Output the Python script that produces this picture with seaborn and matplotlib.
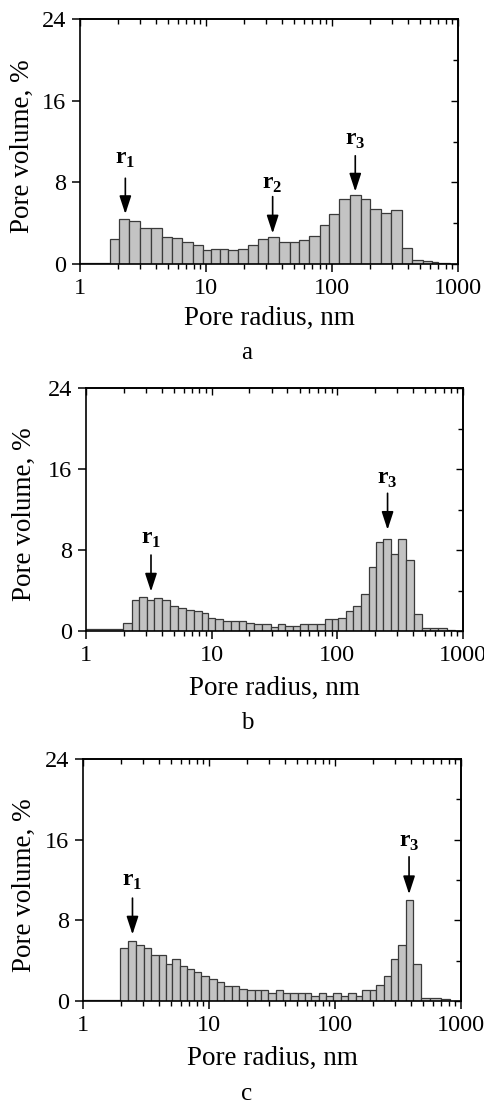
import numpy as np
import pandas as pd
import matplotlib
matplotlib.use("Agg")
import matplotlib.pyplot as plt
from matplotlib.ticker import FixedLocator, LogLocator, NullFormatter
import seaborn as sns

# --- data: bin edges (nm) and pore volume (%) ---
EDGES_A = [1.0, 1.73, 2.05, 2.46, 2.99, 3.68, 4.48, 5.37, 6.45, 7.84, 9.41,
           10.9, 12.8, 15.0, 18.0, 21.7, 26.0, 31.2, 38.2, 46.4, 55.0, 66.0,
           80.3, 95.2, 113, 139, 169, 200, 244, 292, 357, 431, 528, 618, 698, 864]
VOLUME_A = [0.05, 2.42, 4.38, 4.18, 3.56, 3.56, 2.68, 2.58, 2.19, 1.83, 1.37,
            1.47, 1.47, 1.34, 1.47, 1.83, 2.42, 2.61, 2.19, 2.19, 2.35, 2.78,
            3.82, 4.90, 6.41, 6.73, 6.34, 5.39, 5.03, 5.26, 1.54, 0.42, 0.26,
            0.16, 0.07]

EDGES_B = [1.0, 1.98, 2.31, 2.65, 3.04, 3.49, 4.05, 4.66, 5.37, 6.21, 7.23,
           8.32, 9.40, 10.7, 12.2, 14.2, 16.4, 18.7, 21.7, 25.3, 29.5, 33.9,
           38.3, 44.1, 50.4, 58.7, 68.4, 79.6, 90.1, 102, 117, 134, 154, 178,
           203, 232, 267, 305, 351, 407, 469, 545, 635, 741, 863]
VOLUME_B = [0.15, 0.76, 3.04, 3.31, 3.04, 3.21, 3.04, 2.45, 2.31, 2.05, 1.95,
            1.75, 1.26, 1.16, 0.96, 0.96, 0.96, 0.76, 0.66, 0.66, 0.43, 0.66,
            0.46, 0.46, 0.66, 0.66, 0.66, 1.16, 1.16, 1.26, 1.95, 2.45, 3.67,
            6.28, 8.79, 9.09, 7.60, 9.09, 6.98, 1.72, 0.33, 0.33, 0.25, 0.12]

EDGES_C = [1.0, 1.98, 2.28, 2.65, 3.07, 3.49, 4.01, 4.59, 5.12, 5.85, 6.69,
           7.60, 8.70, 10.0, 11.5, 13.1, 15.1, 17.3, 20.0, 23.1, 26.1, 29.4,
           33.8, 38.7, 44.3, 50.9, 57.5, 65.0, 74.6, 85.5, 96.4, 111, 127,
           146, 165, 188, 213, 244, 277, 316, 364, 416, 485, 565, 699, 813]
VOLUME_C = [0.1, 5.28, 5.97, 5.58, 5.28, 4.59, 4.59, 3.70, 4.13, 3.43, 3.20,
            2.87, 2.51, 2.21, 1.88, 1.49, 1.49, 1.22, 1.12, 1.12, 1.12, 0.79,
            1.12, 0.79, 0.79, 0.79, 0.79, 0.46, 0.79, 0.46, 0.79, 0.46, 0.79,
            0.46, 1.12, 1.12, 1.62, 2.48, 4.13, 5.58, 10.03, 3.70, 0.28, 0.26,
            0.17]

# peak markers: (label, radius nm, arrow tip %, arrow tail %, label %)
PEAKS_A = [("1", 2.29, 4.9, 8.4, 10.2), ("2", 33.8, 3.0, 6.6, 7.8),
           ("3", 153, 7.1, 10.6, 12.1)]
PEAKS_B = [("1", 3.29, 3.9, 7.5, 9.0), ("3", 251, 10.0, 13.6, 15.0)]
PEAKS_C = [("1", 2.47, 6.6, 10.2, 11.9), ("3", 387, 10.6, 14.3, 15.7)]

X_TICKS = [1, 10, 100, 1000]
Y_TICKS = [0, 8, 16, 24]
Y_MINOR = [4, 12, 20]

# --- layout (pixel boxes: left, top, right, bottom) ---
FIG_W, FIG_H = 485, 1103
BAR_COLOR = "#c3c3c3"
EDGE_COLOR = "#3a3a3a"


def plot_panel(fig, box, edges, volume, peaks, letter, letter_y, ylab_x, xlab_y):
    left, top, right, bottom = box
    ax = fig.add_axes([left / FIG_W, 1 - bottom / FIG_H,
                       (right - left) / FIG_W, (bottom - top) / FIG_H])

    edges = np.asarray(edges, dtype=float)
    df = pd.DataFrame({"radius": np.sqrt(edges[:-1] * edges[1:]),
                       "volume": volume})
    # seaborn bins the log10 values when log_scale is on
    log_bins = list(np.log10(edges))
    sns.histplot(data=df, x="radius", weights="volume", bins=log_bins,
                 log_scale=True, ax=ax, color=BAR_COLOR, edgecolor=EDGE_COLOR,
                 linewidth=0.9, alpha=1)

    ax.set_xlim(1, 1000)
    ax.set_ylim(0, 24)
    ax.xaxis.set_major_locator(FixedLocator(X_TICKS))
    ax.xaxis.set_minor_locator(LogLocator(base=10, subs=np.arange(2, 10)))
    ax.xaxis.set_minor_formatter(NullFormatter())
    ax.set_xticklabels([str(t) for t in X_TICKS])
    ax.yaxis.set_major_locator(FixedLocator(Y_TICKS))
    ax.tick_params(which="major", direction="out", length=5.5, width=1.1,
                   labelsize=17.5, pad=4.5)
    ax.tick_params(which="minor", direction="out", length=3.5, width=1.0)
    ax.tick_params(axis="y", which="minor", left=False)

    # inward ticks on top and right
    sec_x = ax.secondary_xaxis("top")
    sec_x.xaxis.set_major_locator(FixedLocator(X_TICKS))
    sec_x.xaxis.set_minor_locator(LogLocator(base=10, subs=np.arange(2, 10)))
    sec_x.tick_params(which="both", direction="in", labeltop=False, width=1.0)
    sec_x.tick_params(which="major", length=5)
    sec_x.tick_params(which="minor", length=3.5)
    sec_y = ax.secondary_yaxis("right")
    sec_y.yaxis.set_major_locator(FixedLocator(Y_TICKS))
    sec_y.yaxis.set_minor_locator(FixedLocator(Y_MINOR))
    sec_y.tick_params(which="both", direction="in", labelright=False, width=1.0)
    sec_y.tick_params(which="major", length=5)
    sec_y.tick_params(which="minor", length=3.5)
    for sp in list(ax.spines.values()):
        sp.set_linewidth(1.2)
    sec_x.spines["top"].set_linewidth(1.2)
    sec_y.spines["right"].set_linewidth(1.2)

    ax.set_xlabel("Pore radius, nm", fontsize=19.5, va="center")
    ax.xaxis.set_label_coords(0.5, -(xlab_y - bottom) / (bottom - top))
    ax.set_ylabel("Pore volume, %", fontsize=19.5, va="center")
    ax.yaxis.set_label_coords((ylab_x - left) / (right - left), 0.48)

    # arrows pointing at the peaks
    for idx, r, tip, tail, lab in peaks:
        ax.annotate("", xy=(r, tip), xytext=(r, tail),
                    arrowprops=dict(arrowstyle="-|>,head_length=0.55,head_width=0.18",
                                    color="black", lw=1.2, mutation_scale=20,
                                    shrinkA=0, shrinkB=0))
        ax.text(r, lab, r"$\mathbf{r}_{\mathbf{%s}}$" % idx, ha="center",
                va="center", fontsize=17)

    fig.text(247 / FIG_W, 1 - letter_y / FIG_H, letter, ha="center",
             va="center", fontsize=18)
    return ax


def main():
    sns.set_style("ticks")
    plt.rcParams["font.family"] = ["Liberation Serif", "DejaVu Serif"]
    plt.rcParams["mathtext.fontset"] = "custom"
    plt.rcParams["mathtext.rm"] = "Liberation Serif"
    plt.rcParams["mathtext.bf"] = "Liberation Serif:bold"
    plt.rcParams["text.color"] = "black"
    plt.rcParams["axes.labelcolor"] = "black"
    plt.rcParams["xtick.color"] = "black"
    plt.rcParams["ytick.color"] = "black"
    plt.rcParams["axes.edgecolor"] = "black"

    fig = plt.figure(figsize=(FIG_W / 100, FIG_H / 100), dpi=100)

    plot_panel(fig, (80, 19, 458, 264), EDGES_A, VOLUME_A, PEAKS_A,
               "a", 353, 22, 318)
    plot_panel(fig, (86, 388, 463, 631), EDGES_B, VOLUME_B, PEAKS_B,
               "b", 723, 24, 688)
    plot_panel(fig, (83, 759, 461, 1001), EDGES_C, VOLUME_C, PEAKS_C,
               "c", 1094, 24, 1058)

    fig.savefig("out.png", dpi=100)
    plt.close(fig)


if __name__ == "__main__":
    main()
